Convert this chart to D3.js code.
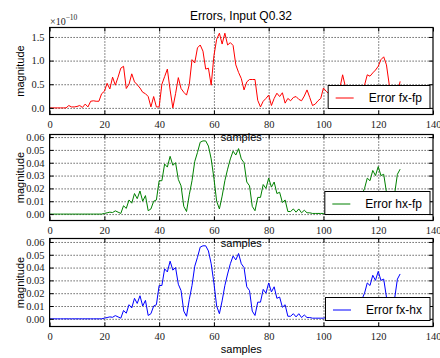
<!DOCTYPE html>
<html><head><meta charset="utf-8">
<script src="https://cdn.jsdelivr.net/npm/d3@7"></script>
<style>
body{margin:0;background:#fff;}
svg{display:block;}
</style></head>
<body><svg id="chart" width="440" height="358"></svg>
<script>
const chartTitle = "Errors, Input Q0.32";
const xLabel = "samples";
const yLabel = "magnitude";
const xTicks = [0, 20, 40, 60, 80, 100, 120, 140];
const yTicksTop = [0.0, 0.5, 1.0, 1.5];
const yTicksErr = [0.00, 0.01, 0.02, 0.03, 0.04, 0.05, 0.06];
const seriesNames = ["Error fx-fp", "Error hx-fp", "Error fx-hx"];

// top series in units of 1e-10
const errFxFp = [0,0,0,0,0,0,0,0.05,0.02,0.02,
 0.03,0.05,0.01,0.08,0.02,0.14,0.15,0.14,0.14,0.3,
 0.35,0.52,0.4,0.65,0.48,0.65,0.84,0.88,0.41,0.5,
 0.72,0.55,0.49,0.42,0.33,0.3,0.24,0.02,0.24,0.02,
 0.02,0.5,0.66,0.82,0.38,0.0,0.3,0.64,0.41,0.33,
 0.27,0.49,1.02,0.95,1.27,1.33,1.2,0.82,0.84,0.48,
 1.1,1.45,1.58,1.35,1.58,1.33,1.38,1.32,0.91,0.75,
 0.62,0.38,0.55,0.6,0.6,0.6,0.16,0.02,0.14,0.2,
 0.27,0.05,0.2,0.31,0.24,0.32,0.1,0.2,0.15,0.22,
 0.24,0.18,0.15,0.25,0.38,0.22,0.05,0.08,0.15,0.2,
 0.42,0.35,0.3,0.25,0.3,0.38,0.42,0.7,0.45,0.3,
 0.25,0.2,0.3,0.35,0.4,0.48,0.7,0.67,0.74,0.8,
 0.88,1.02,1.08,0.91,0.5,0.3,0.35,0.3,0.56];

const errHxFp = [0,0,0,0,0,0,0,0,0,0,
 0,0,0,0,0,0,0,0,0,0,
 0.0005,0.001,0.0015,0.0012,0.0025,0.0015,0.0005,0.0065,0.0044,0.011,
 0.0085,0.016,0.012,0.018,0.01,0.0144,0.0026,0.004,0.01,0.011,
 0.026,0.026,0.039,0.0366,0.045,0.038,0.04,0.027,0.022,0.006,
 0.002,0.015,0.026,0.041,0.048,0.056,0.057,0.057,0.053,0.043,
 0.028,0.01,0.004,0.014,0.026,0.035,0.043,0.049,0.046,0.051,
 0.043,0.04,0.025,0.022,0.006,0.0026,0.013,0.013,0.023,0.02,
 0.028,0.021,0.025,0.016,0.017,0.009,0.011,0.002,0.002,0.004,
 0.0015,0.004,0.001,0.003,0.001,0.001,0.0005,0.0005,0.0005,0.0005,
 0.0005,0.001,0.002,0.001,0.003,0.002,0.004,0.003,0.006,0.005,
 0.008,0.006,0.01,0.012,0.015,0.02,0.028,0.026,0.034,0.03,
 0.037,0.03,0.031,0.017,0.01,0.01,0.016,0.031,0.035];

const errFxHx = [0,0,0,0,0,0,0,0,0,0,
 0,0,0,0,0,0,0,0,0,0,
 0.0005,0.001,0.0015,0.0012,0.0025,0.0015,0.0005,0.0065,0.0044,0.011,
 0.0085,0.016,0.012,0.018,0.01,0.0144,0.0026,0.004,0.01,0.011,
 0.026,0.026,0.039,0.0366,0.045,0.038,0.04,0.027,0.022,0.006,
 0.002,0.015,0.026,0.041,0.048,0.056,0.057,0.057,0.053,0.043,
 0.028,0.01,0.004,0.014,0.026,0.035,0.043,0.049,0.046,0.051,
 0.043,0.04,0.025,0.022,0.006,0.0026,0.013,0.013,0.023,0.02,
 0.028,0.021,0.025,0.016,0.017,0.009,0.011,0.002,0.002,0.004,
 0.0015,0.004,0.001,0.003,0.001,0.001,0.0005,0.0005,0.0005,0.0005,
 0.0005,0.001,0.002,0.001,0.003,0.002,0.004,0.003,0.006,0.005,
 0.008,0.006,0.01,0.012,0.015,0.02,0.028,0.026,0.034,0.03,
 0.037,0.03,0.031,0.017,0.01,0.01,0.016,0.031,0.035];

const SANS = "'Liberation Sans', Arial, sans-serif";
const SERIF = "'Liberation Serif', 'Times New Roman', serif";

const panels = [
  {data: errFxFp, name: seriesNames[0], color: "#ff0000", top: 27.5, bottom: 114.5,
   yDomain: [-0.14, 1.70], yTicks: yTicksTop, fmt: d3.format(".1f")},
  {data: errHxFp, name: seriesNames[1], color: "#008000", top: 134.5, bottom: 220.5,
   yDomain: [-0.005, 0.062], yTicks: yTicksErr, fmt: d3.format(".2f")},
  {data: errFxHx, name: seriesNames[2], color: "#0000ff", top: 238.5, bottom: 326.5,
   yDomain: [-0.006, 0.0627], yTicks: yTicksErr, fmt: d3.format(".2f")}
];

const left = 49.6, right = 433;
const svg = d3.select("#chart");
const x = d3.scaleLinear().domain([0, 140]).range([left, right]);
const labelLayer = [];

panels.forEach((p, pi) => {
  const y = d3.scaleLinear().domain(p.yDomain).range([p.bottom, p.top]);
  const h = p.bottom - p.top, w = right - left;
  const g = svg.append("g");

  // grid
  const gx = g.append("g").attr("transform", `translate(0,${p.bottom})`)
    .call(d3.axisBottom(x).tickValues(xTicks.slice(1, -1)).tickSize(-h).tickFormat(""));
  const gy = g.append("g").attr("transform", `translate(${left},0)`)
    .call(d3.axisLeft(y).tickValues(p.yTicks).tickSize(-w).tickFormat(""));
  [gx, gy].forEach(a => {
    a.select(".domain").remove();
    a.selectAll("line").attr("stroke", "#000").attr("stroke-width", 0.9).attr("stroke-dasharray", "1,2");
  });

  // line
  const line = d3.line().x((d, i) => x(i)).y(d => y(d));
  g.append("path").datum(p.data).attr("d", line)
    .attr("fill", "none").attr("stroke", p.color).attr("stroke-width", 1).attr("stroke-linejoin", "round");

  // axes with inward ticks
  const ab = g.append("g").attr("transform", `translate(0,${p.bottom})`)
    .call(d3.axisBottom(x).tickValues(xTicks).tickSizeInner(-4).tickSizeOuter(0).tickPadding(6.5).tickFormat(d3.format("d")));
  const at = g.append("g").attr("transform", `translate(0,${p.top})`)
    .call(d3.axisTop(x).tickValues(xTicks).tickSizeInner(-4).tickSizeOuter(0).tickFormat(""));
  const al = g.append("g").attr("transform", `translate(${left},0)`)
    .call(d3.axisLeft(y).tickValues(p.yTicks).tickSizeInner(-4).tickSizeOuter(0).tickPadding(5).tickFormat(p.fmt));
  const ar = g.append("g").attr("transform", `translate(${right},0)`)
    .call(d3.axisRight(y).tickValues(p.yTicks).tickSizeInner(-4).tickSizeOuter(0).tickFormat(""));
  [ab, at, al, ar].forEach(a => {
    a.select(".domain").remove();
    a.selectAll("line").attr("stroke", "#000").attr("stroke-width", 1);
    a.selectAll("text").attr("font-family", SERIF).attr("font-size", "10.5px").attr("fill", "#222");
  });

  // frame
  g.append("rect").attr("x", left).attr("y", p.top).attr("width", w).attr("height", h)
    .attr("fill", "none").attr("stroke", "#000").attr("stroke-width", 1.2);

  // legend
  const lg = g.append("g");
  const lr = 430, lb = p.bottom - 6, lh = 23;
  const txt = lg.append("text").text(p.name).attr("font-family", SANS).attr("font-size", "12px").attr("fill", "#000");
  const tw = txt.node().getComputedTextLength();
  const tx = lr - 8 - tw;
  const cy = lb - lh / 2;
  const lx1 = tx - 33, lx2 = tx - 15;
  lg.insert("rect", "text").attr("x", lx1 - 7.5).attr("y", lb - lh).attr("width", lr - (lx1 - 7.5)).attr("height", lh)
    .attr("fill", "#fff").attr("stroke", "#000").attr("stroke-width", 1);
  lg.append("line").attr("x1", lx1).attr("x2", lx2).attr("y1", cy + 1).attr("y2", cy + 1)
    .attr("stroke", p.color).attr("stroke-width", 1);
  txt.attr("x", tx).attr("y", cy + 5);

  // y label
  g.append("text").attr("transform", `translate(24,${(p.top + p.bottom) / 2}) rotate(-90)`)
    .attr("text-anchor", "middle").attr("font-family", SANS).attr("font-size", "11px").text(yLabel);

  labelLayer.push({x: (left + right) / 2, y: p.bottom + 26.5});
});

// x labels on top of everything
labelLayer.forEach(l => {
  svg.append("text").attr("x", l.x).attr("y", l.y).attr("text-anchor", "middle")
    .attr("font-family", SANS).attr("font-size", "11px").text(xLabel);
});

// title
svg.append("text").attr("x", 241).attr("y", 20).attr("text-anchor", "middle")
  .attr("font-family", SANS).attr("font-size", "12px").text(chartTitle);

// offset text
const off = svg.append("text").attr("x", 50).attr("y", 25).attr("font-family", SERIF).attr("font-size", "10px").attr("fill", "#222");
off.append("tspan").text("×10");
off.append("tspan").attr("dy", -5).attr("font-size", "7.5px").text("−10");
</script>
</body></html>
